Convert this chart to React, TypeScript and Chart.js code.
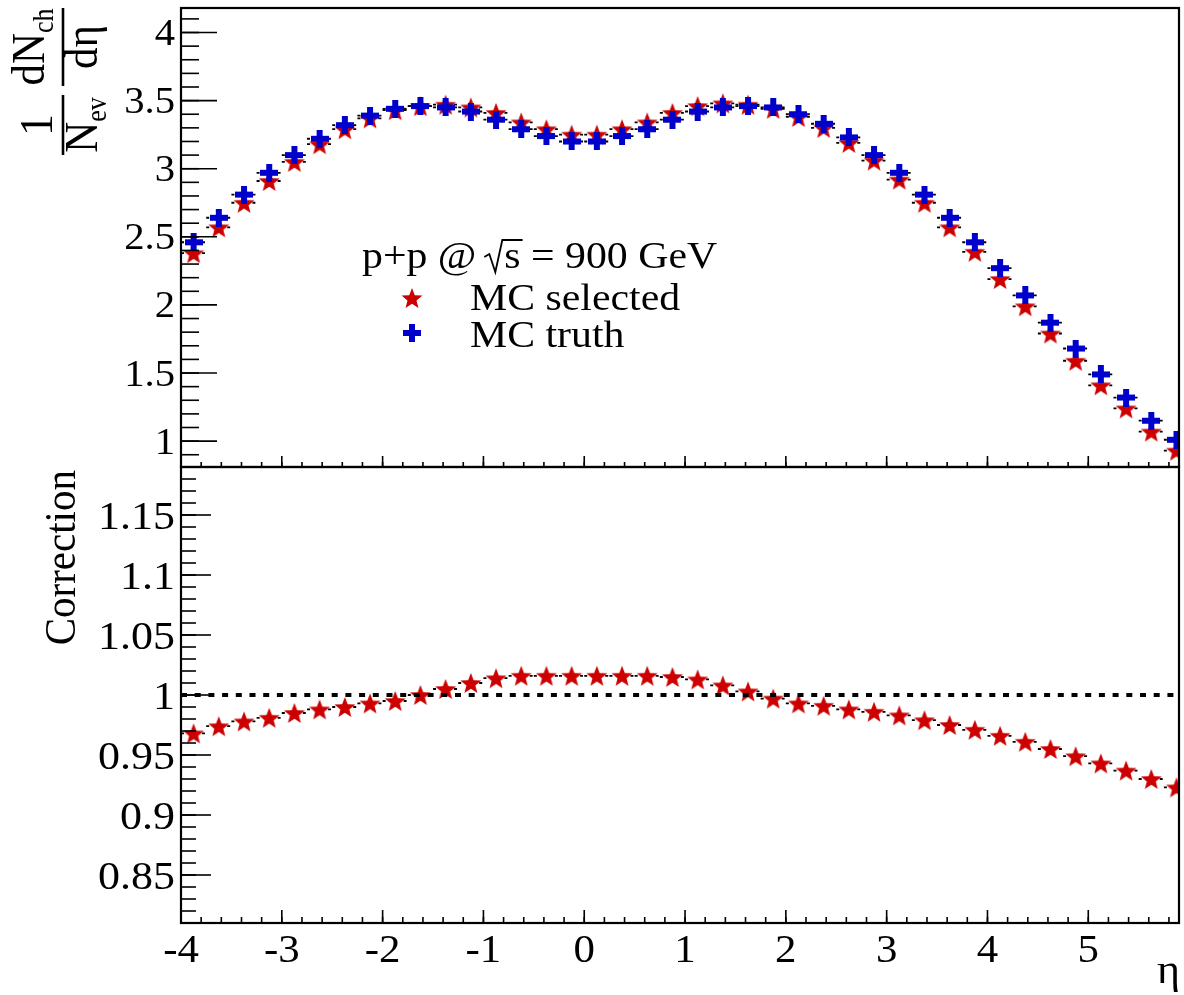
import React, { useEffect, useRef } from "react";
import { Chart, registerables } from "chart.js";

Chart.register(...registerables);

// ---------------- data ----------------
const ETA = [
  -3.875, -3.625, -3.375, -3.125, -2.875, -2.625, -2.375, -2.125, -1.875, -1.625,
  -1.375, -1.125, -0.875, -0.625, -0.375, -0.125, 0.125, 0.375, 0.625, 0.875,
  1.125, 1.375, 1.625, 1.875, 2.125, 2.375, 2.625, 2.875, 3.125, 3.375,
  3.625, 3.875, 4.125, 4.375, 4.625, 4.875, 5.125, 5.375, 5.625, 5.875,
];
const MC_TRUTH = [
  2.46, 2.64, 2.81, 2.97, 3.1, 3.22, 3.32, 3.39, 3.44, 3.46,
  3.45, 3.42, 3.36, 3.29, 3.24, 3.2, 3.2, 3.24, 3.29, 3.36,
  3.42, 3.45, 3.46, 3.45, 3.4, 3.33, 3.23, 3.1, 2.97, 2.81,
  2.64, 2.46, 2.27, 2.07, 1.87, 1.68, 1.49, 1.32, 1.15, 1.01,
];
const MC_SELECTED = [
  2.38, 2.57, 2.75, 2.91, 3.05, 3.18, 3.29, 3.37, 3.43, 3.46,
  3.47, 3.45, 3.41, 3.34, 3.29, 3.25, 3.25, 3.29, 3.34, 3.41,
  3.46, 3.48, 3.47, 3.44, 3.38, 3.3, 3.19, 3.06, 2.92, 2.75,
  2.57, 2.39, 2.19, 1.99, 1.79, 1.59, 1.41, 1.24, 1.07, 0.93,
];
const CORRECTION = [
  0.968, 0.974, 0.978, 0.981, 0.985, 0.988, 0.99, 0.993, 0.995, 1.0,
  1.005, 1.01, 1.014, 1.016, 1.016, 1.016, 1.016, 1.016, 1.016, 1.015,
  1.013, 1.008, 1.003, 0.997, 0.993, 0.991, 0.988, 0.986, 0.983, 0.979,
  0.975, 0.971, 0.966, 0.961, 0.955, 0.949, 0.943, 0.937, 0.93, 0.923,
];
const BIN_HALF_WIDTH = 0.125;
const REFERENCE_LEVEL = 1;

const X_TICKS = [-4, -3, -2, -1, 0, 1, 2, 3, 4, 5];
const TOP_Y_TICKS = [1, 1.5, 2, 2.5, 3, 3.5, 4];
const BOT_Y_TICKS = [0.85, 0.9, 0.95, 1, 1.05, 1.1, 1.15];

const X_RANGE = [-4, 5.9];
const TOP_Y_RANGE = [0.81, 4.18];
const BOT_Y_RANGE = [0.81, 1.19];

// ---------------- style ----------------
const W = 1184;
const H = 995;
const RED = "#cc0000";
const BLUE = "#0000cc";
const FONT = "'Liberation Serif', 'Times New Roman', Times, serif";
const SX = 1.1; // horizontal stretch of the original rendering

function setFont(ctx: CanvasRenderingContext2D, size: number) {
  ctx.font = `${size}px ${FONT}`;
}
function measure(ctx: CanvasRenderingContext2D, s: string, size: number) {
  ctx.save();
  setFont(ctx, size);
  const w = ctx.measureText(s).width;
  ctx.restore();
  return w;
}
function text(
  ctx: CanvasRenderingContext2D,
  s: string,
  x: number,
  y: number,
  size: number,
  align: CanvasTextAlign = "left",
  rot = 0
) {
  ctx.save();
  ctx.translate(x, y);
  ctx.scale(SX, 1);
  if (rot) ctx.rotate(rot);
  setFont(ctx, size);
  ctx.textAlign = align;
  ctx.textBaseline = "alphabetic";
  ctx.fillStyle = "#000";
  ctx.fillText(s, 0, 0);
  ctx.restore();
}
function line(ctx: CanvasRenderingContext2D, x1: number, y1: number, x2: number, y2: number, w = 2) {
  ctx.beginPath();
  ctx.moveTo(x1, y1);
  ctx.lineTo(x2, y2);
  ctx.lineWidth = w;
  ctx.strokeStyle = "#000";
  ctx.stroke();
}

function makeStar(color: string): HTMLCanvasElement {
  const size = 24;
  const c = document.createElement("canvas");
  c.width = size;
  c.height = size;
  const ctx = c.getContext("2d")!;
  const R = 11;
  const r = R * 0.43;
  ctx.beginPath();
  for (let i = 0; i < 10; i++) {
    const a = -Math.PI / 2 + (i * Math.PI) / 5;
    const rad = i % 2 === 0 ? R : r;
    const px = size / 2 + rad * Math.cos(a);
    const py = size / 2 + 1 + rad * Math.sin(a);
    if (i === 0) ctx.moveTo(px, py);
    else ctx.lineTo(px, py);
  }
  ctx.closePath();
  ctx.fillStyle = color;
  ctx.fill();
  return c;
}
function makeCross(color: string): HTMLCanvasElement {
  const size = 18;
  const arm = 6;
  const c = document.createElement("canvas");
  c.width = size;
  c.height = size;
  const ctx = c.getContext("2d")!;
  ctx.fillStyle = color;
  ctx.fillRect((size - arm) / 2, 0, arm, size);
  ctx.fillRect(0, (size - arm) / 2, size, arm);
  return c;
}

type AxisStyle = {
  yTicks: number[];
  yMinorStep: number;
  yMajorLen: number;
  yMinorLen: number;
  yLabelSize: number;
  xMajorLen: number;
  xMinorLen: number;
  xLabelSize: number; // 0 = no labels
};

function frameAxesPlugin(id: string, st: AxisStyle, series: number[][], extra?: (chart: any) => void) {
  return {
    id,
    beforeDatasetsDraw(chart: any) {
      const ctx: CanvasRenderingContext2D = chart.ctx;
      const { x, y } = chart.scales;
      const a = chart.chartArea;
      ctx.save();
      ctx.beginPath();
      ctx.rect(a.left, a.top, a.right - a.left, a.bottom - a.top);
      ctx.clip();
      ctx.setLineDash([3, 4]);
      ctx.strokeStyle = "#000";
      ctx.lineWidth = 1.8;
      for (const vals of series) {
        vals.forEach((v, i) => {
          const py = y.getPixelForValue(v);
          ctx.beginPath();
          ctx.moveTo(x.getPixelForValue(ETA[i] - BIN_HALF_WIDTH), py);
          ctx.lineTo(x.getPixelForValue(ETA[i] + BIN_HALF_WIDTH), py);
          ctx.stroke();
        });
      }
      ctx.restore();
    },
    afterDraw(chart: any) {
      const ctx: CanvasRenderingContext2D = chart.ctx;
      const { x, y } = chart.scales;
      const a = chart.chartArea;
      ctx.save();
      ctx.setLineDash([]);
      // y ticks
      const yMin = y.min, yMax = y.max;
      for (let k = Math.ceil(yMin / st.yMinorStep - 1e-9); k * st.yMinorStep <= yMax + 1e-9; k++) {
        const v = k * st.yMinorStep;
        const py = y.getPixelForValue(v);
        line(ctx, a.left, py, a.left + st.yMinorLen, py, 1.6);
      }
      for (const v of st.yTicks) {
        const py = y.getPixelForValue(v);
        line(ctx, a.left, py, a.left + st.yMajorLen, py, 1.6);
        text(ctx, String(v), a.left - 6, py + 0.338 * st.yLabelSize, st.yLabelSize, "right");
      }
      // x ticks
      const xStep = 0.2;
      for (let k = Math.ceil(x.min / xStep - 1e-9); k * xStep <= x.max + 1e-9; k++) {
        const px = x.getPixelForValue(k * xStep);
        line(ctx, px, a.bottom, px, a.bottom - st.xMinorLen, 1.6);
      }
      for (const v of X_TICKS) {
        const px = x.getPixelForValue(v);
        line(ctx, px, a.bottom, px, a.bottom - st.xMajorLen, 1.6);
        if (st.xLabelSize) text(ctx, String(v), px, a.bottom + 39, st.xLabelSize, "center");
      }
      // frame
      ctx.lineWidth = 2.2;
      ctx.strokeStyle = "#000";
      ctx.strokeRect(a.left, a.top, a.right - a.left, a.bottom - a.top);
      ctx.restore();
      if (extra) extra(chart);
    },
  };
}

function drawTopExtras(star: HTMLCanvasElement, cross: HTMLCanvasElement) {
  return (chart: any) => {
    const ctx: CanvasRenderingContext2D = chart.ctx;
    ctx.save();
    const R = -Math.PI / 2;
    const F = 43;
    const FS = 26;
    // fraction 1 : 1 / N_ev
    text(ctx, "1", 52, 125, F, "center", R);
    const wN = measure(ctx, "N", F);
    const wEv = measure(ctx, "ev", FS);
    const start1 = 125 + (wN + wEv) / 2;
    text(ctx, "N", 97, start1, F, "left", R);
    text(ctx, "ev", 106, start1 - wN, FS, "left", R);
    line(ctx, 63, 95, 63, 155, 2.6);
    // fraction 2 : dN_ch / d eta
    const wdN = measure(ctx, "dN", F);
    const wch = measure(ctx, "ch", FS);
    const start2 = 47 + (wdN + wch) / 2;
    text(ctx, "dN", 44, start2, F, "left", R);
    text(ctx, "ch", 53, start2 - wdN, FS, "left", R);
    text(ctx, "d\u03b7", 97, 47, F, "center", R);
    line(ctx, 63, 8, 63, 86, 2.6);

    // legend / label
    const LF = 38;
    const b = 268;
    let x = 362;
    text(ctx, "p+p @", x, b, LF);
    x += measure(ctx, "p+p @", LF) * SX;
    const rx = x + 8;
    const sx = rx + 20;
    const sw = measure(ctx, "s", LF) * SX;
    ctx.beginPath();
    ctx.moveTo(rx, b - 11);
    ctx.lineTo(rx + 5, b - 14);
    ctx.lineTo(rx + 11, b + 4);
    ctx.lineTo(rx + 18, b - 28);
    ctx.lineTo(sx + sw + 2, b - 28);
    ctx.lineWidth = 1.8;
    ctx.strokeStyle = "#000";
    ctx.stroke();
    text(ctx, "s", sx, b, LF);
    text(ctx, " = 900 GeV", sx + sw, b, LF);

    ctx.drawImage(star, 412 - star.width / 2, 298 - star.height / 2);
    text(ctx, "MC selected", 470, 310, LF);
    ctx.drawImage(cross, 412 - cross.width / 2, 333 - cross.height / 2);
    text(ctx, "MC truth", 470, 347, LF);
    ctx.restore();
  };
}

function drawBottomExtras(chart: any) {
  const ctx: CanvasRenderingContext2D = chart.ctx;
  text(ctx, "Correction", 75, 470, 41, "right", -Math.PI / 2);
  text(ctx, "\u03b7", 1180, 983, 40, "right");
}

export default function App() {
  const topRef = useRef<HTMLCanvasElement>(null);
  const botRef = useRef<HTMLCanvasElement>(null);

  useEffect(() => {
    const star = makeStar(RED);
    const cross = makeCross(BLUE);

    const top = new Chart(topRef.current!, {
      type: "scatter",
      data: {
        datasets: [
          {
            label: "MC truth",
            data: ETA.map((e, i) => ({ x: e, y: MC_TRUTH[i] })),
            pointStyle: cross as any,
            order: 1,
          },
          {
            label: "MC selected",
            data: ETA.map((e, i) => ({ x: e, y: MC_SELECTED[i] })),
            pointStyle: star as any,
            order: 2,
          },
        ],
      },
      options: {
        responsive: false,
        animation: false,
        devicePixelRatio: 1,
        layout: { padding: { left: 181, right: 2, top: 8, bottom: H - 467 } },
        plugins: { legend: { display: false }, tooltip: { enabled: false }, title: { display: false } },
        scales: {
          x: { type: "linear", min: X_RANGE[0], max: X_RANGE[1], display: false },
          y: { type: "linear", min: TOP_Y_RANGE[0], max: TOP_Y_RANGE[1], display: false },
        },
      },
      plugins: [
        frameAxesPlugin(
          "topAxes",
          {
            yTicks: TOP_Y_TICKS,
            yMinorStep: 0.1,
            yMajorLen: 36,
            yMinorLen: 18,
            yLabelSize: 37,
            xMajorLen: 11,
            xMinorLen: 5,
            xLabelSize: 0,
          },
          [MC_SELECTED, MC_TRUTH],
          drawTopExtras(star, cross)
        ),
      ],
    });

    const bot = new Chart(botRef.current!, {
      type: "scatter",
      data: {
        datasets: [
          {
            label: "reference",
            type: "line",
            data: [
              { x: X_RANGE[0], y: REFERENCE_LEVEL },
              { x: X_RANGE[1], y: REFERENCE_LEVEL },
            ],
            borderColor: "#000",
            borderWidth: 4,
            borderDash: [6, 7.7],
            pointRadius: 0,
            showLine: true,
            order: 0,
          } as any,
          {
            label: "Correction",
            data: ETA.map((e, i) => ({ x: e, y: CORRECTION[i] })),
            pointStyle: star as any,
            order: 1,
          },
        ],
      },
      options: {
        responsive: false,
        animation: false,
        devicePixelRatio: 1,
        layout: { padding: { left: 181, right: 2, top: 467, bottom: H - 923 } },
        plugins: { legend: { display: false }, tooltip: { enabled: false }, title: { display: false } },
        scales: {
          x: { type: "linear", min: X_RANGE[0], max: X_RANGE[1], display: false },
          y: { type: "linear", min: BOT_Y_RANGE[0], max: BOT_Y_RANGE[1], display: false },
        },
      },
      plugins: [
        frameAxesPlugin(
          "botAxes",
          {
            yTicks: BOT_Y_TICKS,
            yMinorStep: 0.01,
            yMajorLen: 30,
            yMinorLen: 15,
            yLabelSize: 40,
            xMajorLen: 13,
            xMinorLen: 6,
            xLabelSize: 39,
          },
          [CORRECTION],
          drawBottomExtras
        ),
      ],
    });

    return () => {
      top.destroy();
      bot.destroy();
    };
  }, []);

  const cs: React.CSSProperties = { position: "absolute", left: 0, top: 0, width: W, height: H };
  return (
    <div style={{ position: "absolute", left: 0, top: 0, width: W, height: H, background: "#fff" }}>
      <canvas ref={topRef} width={W} height={H} style={cs} />
      <canvas ref={botRef} width={W} height={H} style={cs} />
    </div>
  );
}
